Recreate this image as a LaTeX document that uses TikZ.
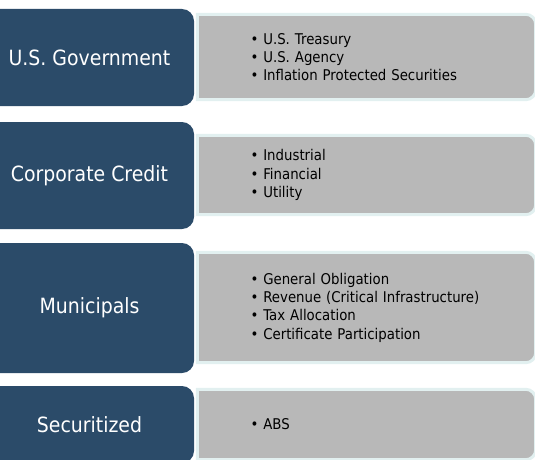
\documentclass[tikz,border=0pt]{standalone}
\usepackage{fontspec}
\setmainfont{DejaVu Sans}[FakeStretch=0.9]
\usetikzlibrary{calc}
\usetikzlibrary{backgrounds}

\definecolor{navy}{RGB}{43,75,105}
\definecolor{panelgray}{RGB}{184,184,184}
\definecolor{rim}{RGB}{226,240,240}

\begin{document}
\begin{tikzpicture}[x=1pt, y=1pt,
	catbox/.style={rectangle, rounded corners=12pt, fill=navy, text=white,
		minimum width=209pt, inner sep=0pt, font=\fontsize{21}{25}\selectfont},
	listbox/.style={rectangle, text width=232pt, inner xsep=53pt, inner ysep=0pt,
		align=left, font=\fontsize{14.8}{18.3}\selectfont},
	panel/.style={fill=panelgray, draw=rim, line width=3pt}]

	\useasboundingbox (0,0) rectangle (535,-460);

	\node[catbox, minimum height=97pt] (gov) at (89.5,-57.5) {U.S. Government};
	\node[catbox, minimum height=107pt] (corp) at (89.5,-175.5) {Corporate Credit};
	\node[catbox, minimum height=130pt] (muni) at (89.5,-308) {Municipals};
	\node[catbox, minimum height=77pt] (sec) at (89.5,-424.5) {Securitized};

	\node[listbox, minimum height=85pt] (govlist) at (366.5,-57)
		{• U.S. Treasury\\• U.S. Agency\\• Inflation Protected Securities};
	\node[listbox, minimum height=79pt] (corplist) at (366.5,-175)
		{• Industrial\\• Financial\\• Utility};
	\node[listbox, minimum height=110pt] (munilist) at (366.5,-307.5)
		{• General Obligation\\• Revenue (Critical Infrastructure)\\• Tax Allocation\\• Certificate Participation};
	\node[listbox, minimum height=70pt] (seclist) at (366.5,-424.5)
		{• ABS};

	\begin{scope}[on background layer]
		\foreach \n in {govlist,corplist,munilist,seclist}
			\draw[panel] (\n.north west) -- ($(\n.north east)+(-10,0)$)
				arc[start angle=90, end angle=0, radius=10]
				-- ($(\n.south east)+(0,10)$)
				arc[start angle=0, end angle=-90, radius=10]
				-- (\n.south west) -- cycle;
	\end{scope}

\end{tikzpicture}
\end{document}
